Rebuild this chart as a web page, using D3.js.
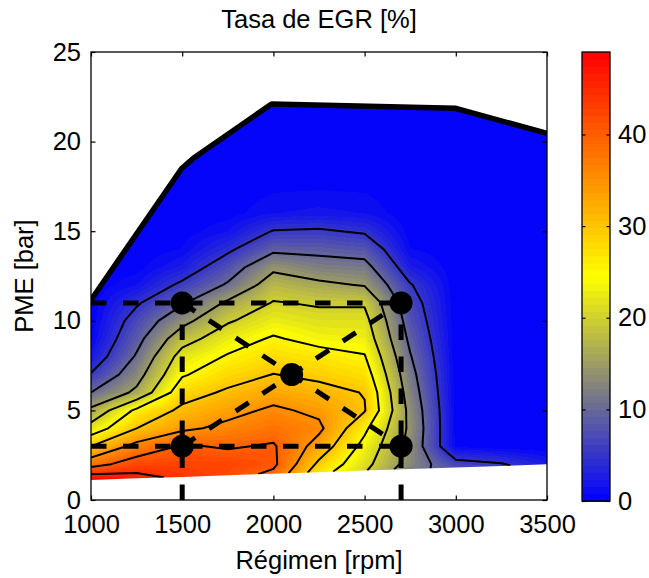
<!DOCTYPE html>
<html>
<head>
<meta charset="utf-8">
<script src="https://cdn.jsdelivr.net/npm/d3@7/dist/d3.min.js"></script>
<style>
html,body{margin:0;padding:0;background:#fff;}
svg{display:block;}
text{font-family:"Liberation Sans",Arial,Helvetica,sans-serif;fill:#000;}
</style>
</head>
<body>
<svg id="chart" width="649" height="578"></svg>
<script>
// ---------------- data ----------------
const titleText = "Tasa de EGR [%]";
const xLabel = "Régimen [rpm]";
const yLabel = "PME [bar]";
const xTicks = [1000, 1500, 2000, 2500, 3000, 3500];
const yTicks = [0, 5, 10, 15, 20, 25];
const cbTicks = [0, 10, 20, 30, 40];
const levels = [5, 10, 15, 20, 25, 30, 35, 40, 45];
const cMax = 49;

// grid columns (rpm) and rows (PME, bar). Row 0 is the lower limit of the map (per column)
const rpm = [1000, 1250, 1500, 1750, 2000, 2250, 2500, 2750, 3000, 3250, 3500];
const lowerLimit = [1.12, 1.21, 1.29, 1.38, 1.47, 1.55, 1.64, 1.73, 1.82, 1.90, 1.99];
const pmeRows = [null, 2, 3, 4, 5, 6, 7, 8, 9, 10, 11, 12, 13, 14, 15, 16, 18, 20, 22, 24];

// EGR rate [%] per rpm column, from row 0 upward
const egr = [
  [49, 38, 30, 22, 16, 10, 5.3, 2, 0.5, 0, 0, 0, 0, 0, 0, 0, 0, 0, 0, 0],
  [46.5, 42.5, 36.5, 30, 26, 16, 13, 10.5, 8.5, 6.8, 4.5, 1.5, 0.3, 0, 0, 0, 0, 0, 0, 0],
  [44, 42.5, 40.5, 34, 31, 28, 24.5, 22, 18, 13.5, 9.5, 5.8, 2.5, 0.8, 0.2, 0, 0, 0, 0, 0],
  [42, 42.5, 39.5, 36.2, 33.5, 30.7, 28, 25.4, 22.8, 19.5, 15.8, 10.5, 7.5, 4.2, 1.5, 0.3, 0, 0, 0, 0],
  [39, 41, 40.5, 38, 35.8, 33, 30.1, 27.8, 25.5, 22.7, 20.3, 17.5, 14, 9, 5.2, 1.5, 0.2, 0, 0, 0],
  [27, 29, 33, 36, 34, 31.5, 29, 26.8, 23.5, 21.5, 19.5, 16, 12, 8.8, 5.5, 1.8, 0.2, 0, 0, 0],
  [20.5, 21.5, 23.5, 26, 30.3, 29.8, 27.5, 25.3, 23, 21.5, 19.5, 14.7, 11.5, 8, 4.5, 1.5, 0.2, 0, 0, 0],
  [12, 13, 13.5, 14, 13.5, 12.5, 11.5, 10.3, 9, 7.8, 6.8, 5.3, 2.5, 0.8, 0.2, 0, 0, 0, 0, 0],
  [7.5, 6.5, 0.5, 0.3, 0.3, 0.2, 0.1, 0, 0, 0, 0, 0, 0, 0, 0, 0, 0, 0, 0, 0],
  [5.5, 5.3, 0, 0, 0, 0, 0, 0, 0, 0, 0, 0, 0, 0, 0, 0, 0, 0, 0, 0],
  [3, 2.5, 0, 0, 0, 0, 0, 0, 0, 0, 0, 0, 0, 0, 0, 0, 0, 0, 0, 0]
];

// full-load envelope (upper limit of the map)
const envRpm = [1000, 1497, 1561, 1990, 2996, 3500];
const envPme = [11.16, 18.5, 19.07, 22.1, 21.86, 20.46];

// operating points
const opRpm = [1500, 2700, 2100, 1500, 2700];
const opPme = [11, 11, 7, 3, 3];
// dashed segments between operating points
const dashStartRpm = [1000, 1000, 1500, 2700, 1500, 1500];
const dashStartPme = [11, 3, 0, 0, 11, 3];
const dashEndRpm = [2700, 2700, 1500, 2700, 2700, 2700];
const dashEndPme = [11, 3, 11, 11, 3, 11];

// ---------------- layout ----------------
const svg = d3.select('#chart');
const plot = {left: 91, right: 547, top: 52, bottom: 500};
const cb = {left: 582, right: 610, top: 52, bottom: 501};
const FS = 25.5;

const x = d3.scaleLinear().domain([1000, 3500]).range([plot.left, plot.right]);
const y = d3.scaleLinear().domain([0, 25]).range([plot.bottom, plot.top]);
const cy = d3.scaleLinear().domain([0, cMax]).range([cb.bottom, cb.top]);
const cmap = d3.scaleLinear().domain([0, cMax * 0.25, cMax * 0.5, cMax])
  .range(['#0000ff', '#808080', '#ffff00', '#ff0000']).clamp(true);
const NCOL = 64;
const bandColor = k => cmap((k + 0.5) * cMax / NCOL);
const band = v => Math.max(0, Math.min(NCOL - 1, Math.floor(v / cMax * NCOL)));

// ---------------- field evaluation ----------------
const n = rpm.length, m = pmeRows.length;
function colPme(c, j) { return j === 0 ? lowerLimit[c] : pmeRows[j]; }
function colValue(c, p) {
  const vs = egr[c];
  if (p <= colPme(c, 0)) return vs[0];
  for (let j = 0; j < m - 1; j++) {
    const p0 = colPme(c, j), p1 = colPme(c, j + 1);
    if (p <= p1) { const t = p1 > p0 ? (p - p0) / (p1 - p0) : 0; return vs[j] + t * (vs[j + 1] - vs[j]); }
  }
  return vs[m - 1];
}
function field(r, p) {
  let i0 = d3.bisectRight(rpm, r) - 1;
  i0 = Math.max(0, Math.min(n - 2, i0));
  const t = Math.max(0, Math.min(1, (r - rpm[i0]) / (rpm[i0 + 1] - rpm[i0])));
  return colValue(i0, p) * (1 - t) + colValue(i0 + 1, p) * t;
}

// ---------------- clip paths ----------------
const defs = svg.append('defs');
const domainPts = envRpm.map((r, i) => [r, envPme[i]])
  .concat(rpm.slice().reverse().map((r, i) => [r, lowerLimit[n - 1 - i]]));
defs.append('clipPath').attr('id', 'dom').append('path')
  .attr('d', d3.line().x(d => x(d[0])).y(d => y(d[1]))(domainPts) + 'Z');
defs.append('clipPath').attr('id', 'plotArea').append('rect')
  .attr('x', plot.left).attr('y', plot.top)
  .attr('width', plot.right - plot.left).attr('height', plot.bottom - plot.top);

// ---------------- shaded field ----------------
const runs = [];
for (let py = plot.top; py < plot.bottom; py++) {
  const p = y.invert(py + 0.5);
  let start = plot.left, cur = -1;
  for (let px = plot.left; px < plot.right; px++) {
    const k = band(field(x.invert(px + 0.5), p));
    if (k !== cur) {
      if (cur >= 0) runs.push({x0: start, x1: px, y0: py, k: cur});
      cur = k; start = px;
    }
  }
  runs.push({x0: start, x1: plot.right, y0: py, k: cur});
}
svg.append('g').attr('clip-path', 'url(#dom)').attr('shape-rendering', 'crispEdges')
  .selectAll('rect').data(runs).join('rect')
  .attr('x', d => d.x0).attr('y', d => d.y0)
  .attr('width', d => d.x1 - d.x0).attr('height', 1)
  .attr('fill', d => bandColor(d.k));

// ---------------- contour lines ----------------
const grid = new Array(n * m);
for (let j = 0; j < m; j++) for (let i = 0; i < n; i++) grid[j * n + i] = egr[i][j];
function toData(pt) {
  const fi = Math.max(0, Math.min(n - 1, pt[0] - 0.5));
  const fj = Math.max(0, Math.min(m - 1, pt[1] - 0.5));
  const i0 = Math.min(n - 2, Math.floor(fi)), ti = fi - i0;
  const r = rpm[i0] + ti * (rpm[i0 + 1] - rpm[i0]);
  const lo = lowerLimit[i0] + ti * (lowerLimit[i0 + 1] - lowerLimit[i0]);
  const ps = j => j === 0 ? lo : pmeRows[j];
  const j0 = Math.min(m - 2, Math.floor(fj)), tj = fj - j0;
  return [r, ps(j0) + tj * (ps(j0 + 1) - ps(j0))];
}
const isFrame = p => p[0] <= 0 || p[0] >= n || p[1] <= 0 || p[1] >= m;
const polylines = [];
d3.contours().size([n, m]).thresholds(levels)(grid).forEach(c => {
  c.coordinates.forEach(poly => poly.forEach(ring => {
    const pts = ring.slice(0, -1);
    const s = pts.findIndex(isFrame);
    if (s < 0) { polylines.push(pts.concat([pts[0]]).map(toData)); return; }
    let cur = [];
    for (let k = 1; k <= pts.length; k++) {
      const p = pts[(s + k) % pts.length];
      if (isFrame(p)) { if (cur.length > 1) polylines.push(cur.map(toData)); cur = []; }
      else cur.push(p);
    }
    if (cur.length > 1) polylines.push(cur.map(toData));
  }));
});
const line = d3.line().x(d => x(d[0])).y(d => y(d[1]));
svg.append('g').attr('clip-path', 'url(#dom)')
  .selectAll('path').data(polylines).join('path')
  .attr('d', line).attr('fill', 'none').attr('stroke', '#000')
  .attr('stroke-width', 2).attr('stroke-linejoin', 'round');

// ---------------- envelope ----------------
svg.append('path').attr('clip-path', 'url(#plotArea)')
  .datum(envRpm.map((r, i) => [r, envPme[i]]))
  .attr('d', line).attr('fill', 'none').attr('stroke', '#000')
  .attr('stroke-width', 5.5).attr('stroke-linejoin', 'round');

// ---------------- dashed lines and points ----------------
const segs = dashStartRpm.map((r, i) => [[r, dashStartPme[i]], [dashEndRpm[i], dashEndPme[i]]]);
svg.append('g').attr('clip-path', 'url(#plotArea)')
  .selectAll('path').data(segs).join('path')
  .attr('d', line).attr('fill', 'none').attr('stroke', '#000')
  .attr('stroke-width', 5).attr('stroke-dasharray', '15.5,16.5');
svg.append('g').selectAll('circle').data(opRpm.map((r, i) => [r, opPme[i]])).join('circle')
  .attr('cx', d => x(d[0])).attr('cy', d => y(d[1])).attr('r', 11.5).attr('fill', '#000');

// ---------------- axes ----------------
function styleAxis(g) {
  g.attr('font-size', FS).attr('font-family', '"Liberation Sans",Arial,sans-serif');
  g.select('.domain').remove();
  g.selectAll('.tick line').attr('stroke', '#000').attr('stroke-width', 1.2);
  g.selectAll('.tick text').attr('fill', '#000');
}
svg.append('g').attr('transform', `translate(0,${plot.bottom})`)
  .call(d3.axisBottom(x).tickValues(xTicks).tickSize(-4.5).tickSizeOuter(0).tickPadding(14.5).tickFormat(d3.format('d')))
  .call(styleAxis);
svg.append('g').attr('transform', `translate(0,${plot.top})`)
  .call(d3.axisTop(x).tickValues(xTicks).tickSize(-4.5).tickSizeOuter(0).tickFormat(''))
  .call(styleAxis);
svg.append('g').attr('transform', `translate(${plot.left},0)`)
  .call(d3.axisLeft(y).tickValues(yTicks).tickSize(-4.5).tickSizeOuter(0).tickPadding(10).tickFormat(d3.format('d')))
  .call(styleAxis);
svg.append('g').attr('transform', `translate(${plot.right},0)`)
  .call(d3.axisRight(y).tickValues(yTicks).tickSize(-4.5).tickSizeOuter(0).tickFormat(''))
  .call(styleAxis);
svg.append('rect').attr('x', plot.left).attr('y', plot.top)
  .attr('width', plot.right - plot.left).attr('height', plot.bottom - plot.top)
  .attr('fill', 'none').attr('stroke', '#000').attr('stroke-width', 1.3);

// ---------------- colorbar ----------------
svg.append('g').attr('shape-rendering', 'crispEdges')
  .selectAll('rect').data(d3.range(NCOL)).join('rect')
  .attr('x', cb.left).attr('width', cb.right - cb.left)
  .attr('y', k => cy((k + 1) * cMax / NCOL)).attr('height', k => cy(k * cMax / NCOL) - cy((k + 1) * cMax / NCOL) + 0.5)
  .attr('fill', k => bandColor(k));
svg.append('g').attr('transform', `translate(${cb.right},0)`)
  .call(d3.axisRight(cy).tickValues(cbTicks).tickSize(-3.5).tickSizeOuter(0).tickPadding(8).tickFormat(d3.format('d')))
  .call(styleAxis);
svg.append('g').attr('transform', `translate(${cb.left},0)`)
  .call(d3.axisLeft(cy).tickValues(cbTicks).tickSize(-3.5).tickSizeOuter(0).tickFormat(''))
  .call(styleAxis);
svg.append('rect').attr('x', cb.left).attr('y', cb.top)
  .attr('width', cb.right - cb.left).attr('height', cb.bottom - cb.top)
  .attr('fill', 'none').attr('stroke', '#000').attr('stroke-width', 1.3);

// ---------------- labels ----------------
svg.append('text').attr('x', (plot.left + plot.right) / 2).attr('y', 28)
  .attr('text-anchor', 'middle').attr('font-size', FS).text(titleText);
svg.append('text').attr('x', (plot.left + plot.right) / 2).attr('y', 569)
  .attr('text-anchor', 'middle').attr('font-size', FS).text(xLabel);
svg.append('text').attr('transform', `translate(33,${(plot.top + plot.bottom) / 2}) rotate(-90)`)
  .attr('text-anchor', 'middle').attr('font-size', FS).text(yLabel);
</script>
</body>
</html>
